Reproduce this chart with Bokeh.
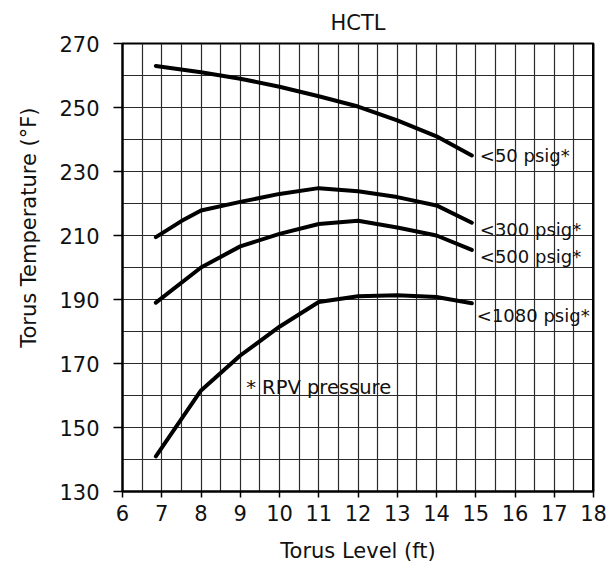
from bokeh.plotting import figure
from bokeh.models import Range1d, FixedTicker, SingleIntervalTicker, Label, Span, Title
from bokeh.embed import file_html
from bokeh.resources import INLINE

# Data
x_50 = [6.85, 8, 9, 10, 11, 12, 13, 14, 14.9]
y_50 = [263.0, 261.0, 259.0, 256.5, 253.5, 250.3, 246.0, 241.0, 235.0]

x_300 = [6.85, 7.5, 8, 9, 10, 11, 12, 13, 14, 14.9]
y_300 = [209.5, 214.5, 217.8, 220.5, 223.0, 224.8, 223.8, 222.0, 219.4, 214.0]

x_500 = [6.85, 8, 9, 10, 11, 12, 13, 14, 14.9]
y_500 = [189.0, 200.0, 206.6, 210.5, 213.6, 214.6, 212.5, 210.0, 205.5]

x_1080 = [6.85, 8, 9, 10, 11, 12, 13, 14, 14.9]
y_1080 = [141.0, 161.6, 172.5, 181.5, 189.2, 191.0, 191.3, 190.8, 188.8]

series_labels = ["<50 psig*", "<300 psig*", "<500 psig*", "<1080 psig*"]
note_text = "* RPV pressure"
x_ticks = list(range(6, 19))
y_ticks = list(range(130, 271, 20))

FONT = "DejaVu Sans"
TXT = "#111111"

p = figure(width=610, height=575,
           x_range=Range1d(6, 18), y_range=Range1d(130, 270),
           output_backend="svg", toolbar_location=None,
           min_border_left=122, min_border_right=17,
           min_border_top=43, min_border_bottom=84)

p.title.text = "HCTL"
p.title.align = "center"
p.title.text_font = FONT
p.title.text_font_size = "21px"
p.title.text_font_style = "normal"
p.title.text_color = TXT
p.title.standoff = 17

p.background_fill_color = "white"
p.border_fill_color = "white"
p.outline_line_color = "black"
p.outline_line_width = 2

# grids
p.xgrid.ticker = SingleIntervalTicker(interval=0.5)
p.ygrid.ticker = SingleIntervalTicker(interval=10)
for g in (p.xgrid, p.ygrid):
    g.grid_line_color = "#2a2a2a"
    g.grid_line_width = 1.2
    g.grid_line_alpha = 1.0

# axes
p.xaxis.ticker = FixedTicker(ticks=x_ticks)
p.yaxis.ticker = FixedTicker(ticks=y_ticks)
for ax in (p.xaxis, p.yaxis):
    ax.axis_line_color = "black"
    ax.axis_line_width = 2
    ax.major_tick_line_color = "black"
    ax.major_tick_line_width = 1.5
    ax.major_tick_in = 0
    ax.minor_tick_line_color = None
    ax.major_label_text_font = FONT
    ax.major_label_text_color = TXT
    ax.major_label_text_font_size = "21px"
    ax.axis_label_text_font = FONT
    ax.axis_label_text_font_style = "normal"
    ax.axis_label_text_color = TXT
    ax.axis_label_text_font_size = "21px"

p.xaxis.major_tick_out = 6
p.yaxis.major_tick_out = 9
p.xaxis.major_label_standoff = 7
p.yaxis.major_label_standoff = 14
p.xaxis.axis_label = "Torus Level (ft)"
p.xaxis.axis_label_standoff = 15

# y axis title, placed above the frame centre as in the reference
ytitle = Title(text="Torus Temperature (°F)", align="right", offset=64,
               vertical_align="top", standoff=28,
               text_font=FONT, text_font_size="21px", text_font_style="normal",
               text_color=TXT)
p.add_layout(ytitle, "left")

p.add_layout(Span(location=18, dimension="height", line_color="black", line_width=3))

series = [(x_50, y_50), (x_300, y_300), (x_500, y_500), (x_1080, y_1080)]
dy_px = [0, -7, -7, -12]
dx_px = [8, 8, 8, 5]
for (xs, ys), lab, dy, dx in zip(series, series_labels, dy_px, dx_px):
    p.line(xs, ys, line_color="black", line_width=4, line_join="round", line_cap="round")
    p.add_layout(Label(x=xs[-1], y=ys[-1], x_offset=dx, y_offset=dy, text=lab,
                       text_font=FONT, text_font_size="18px", text_color=TXT,
                       text_baseline="middle", text_align="left"))

p.add_layout(Label(x=9.15, y=162.6, text=note_text, text_font=FONT,
                   text_font_size="19.5px", text_color=TXT,
                   text_baseline="middle", text_align="left"))

open("out.html", "w").write(file_html(p, INLINE))
